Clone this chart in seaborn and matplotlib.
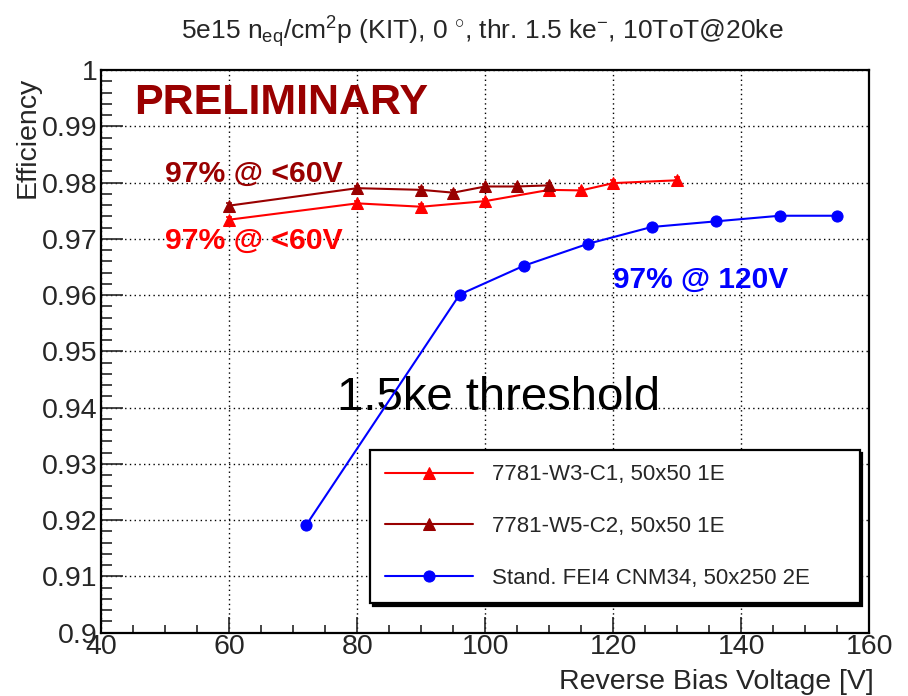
import matplotlib
matplotlib.use("Agg")
import matplotlib.pyplot as plt
from matplotlib.ticker import AutoMinorLocator, MultipleLocator
import seaborn as sns

# ---- data ----
w3_voltage = [60, 80, 90, 100, 110, 115, 120, 130]
w3_eff = [0.9734, 0.9763, 0.9757, 0.9767, 0.9787, 0.9786, 0.9799, 0.9804]
w3_err = [0.0004, 0.0004, 0.0004, 0.0004, 0.0004, 0.0004, 0.0005, 0.0006]

w5_voltage = [60, 80, 90, 95, 100, 105, 110]
w5_eff = [0.9759, 0.9790, 0.9787, 0.9782, 0.9793, 0.9793, 0.9795]
w5_err = [0.0004, 0.0004, 0.0005, 0.0005, 0.0005, 0.0005, 0.0005]

fei4_voltage = [72, 96, 106, 116, 126, 136, 146, 155]
fei4_eff = [0.9191, 0.9601, 0.9652, 0.9691, 0.9721, 0.9731, 0.9741, 0.9741]
fei4_err = [0.0007, 0.0003, 0.0003, 0.0003, 0.0003, 0.0003, 0.0003, 0.0003]

labels = ["7781-W3-C1, 50x50 1E", "7781-W5-C2, 50x50 1E", "Stand. FEI4 CNM34, 50x250 2E"]
colors = ["#ff0000", "#990000", "#0000ff"]

x_ticks = [40, 60, 80, 100, 120, 140, 160]
y_ticks = [0.90, 0.91, 0.92, 0.93, 0.94, 0.95, 0.96, 0.97, 0.98, 0.99, 1.00]
y_tick_labels = ["0.9", "0.91", "0.92", "0.93", "0.94", "0.95", "0.96", "0.97", "0.98", "0.99", "1"]

sns.set_style("white")
plt.rcParams["font.family"] = ["Liberation Sans", "DejaVu Sans"]
plt.rcParams["mathtext.fontset"] = "custom"
plt.rcParams["mathtext.rm"] = "Liberation Sans"
plt.rcParams["mathtext.it"] = "Liberation Sans:italic"
plt.rcParams["mathtext.bf"] = "Liberation Sans:bold"

fig = plt.figure(figsize=(9.08, 6.96), dpi=100)
ax = fig.add_axes([101.3 / 908, 1 - 632.7 / 696, 768 / 908, 562.7 / 696])

series = [
    (w3_voltage, w3_eff, w3_err, "^", 8.5),
    (w5_voltage, w5_eff, w5_err, "^", 8.5),
    (fei4_voltage, fei4_eff, fei4_err, "o", 8),
]
for (xv, yv, ev, mk, ms), lab, col in zip(series, labels, colors):
    ax.errorbar(xv, yv, yerr=ev, fmt="none", ecolor=col, elinewidth=1.2,
                capsize=2.5, capthick=1.2, zorder=3)
    sns.lineplot(x=xv, y=yv, ax=ax, color=col, marker=mk, markersize=ms,
                 markeredgecolor=col, linewidth=1.5, label=lab,
                 errorbar=None, zorder=4)

ax.set_xlim(40, 160)
ax.set_ylim(0.9, 1.0)
ax.set_xticks(x_ticks)
ax.xaxis.set_minor_locator(AutoMinorLocator(4))
ax.set_yticks(y_ticks)
ax.set_yticklabels(y_tick_labels)
ax.yaxis.set_minor_locator(AutoMinorLocator(5))

ax.tick_params(axis="x", which="major", direction="in", length=11.5, width=1.2,
               labelsize=20.5, pad=1, bottom=True, top=False)
ax.tick_params(axis="x", which="minor", direction="in", length=5.5, width=1.2,
               bottom=True, top=False)
ax.tick_params(axis="y", which="major", direction="in", length=16, width=1.2,
               labelsize=20.5, pad=2.5, left=True, right=False)
ax.tick_params(axis="y", which="minor", direction="in", length=8, width=1.2,
               left=True, right=False)

for sp in ax.spines.values():
    sp.set_linewidth(1.6)
    sp.set_color("black")

ax.grid(True, which="major", color="black", linestyle=(0, (1, 2.4)), linewidth=1.0)
ax.set_axisbelow(True)

ax.set_xlabel("Reverse Bias Voltage [V]", fontsize=20.5, loc="right")
ax.xaxis.set_label_coords(1.006, -0.064)
ax.set_ylabel("Efficiency", fontsize=20.5, loc="top")
ax.yaxis.set_label_coords(-0.079, 0.988)

# annotations
ax.text(45.1, 0.99218, "PRELIMINARY", color="#990000", fontsize=31,
        fontweight="bold", va="baseline", ha="left")
ax.text(49.9, 0.98012, "97% @ <60V", color="#990000", fontsize=21.7,
        fontweight="bold", va="baseline", ha="left")
ax.text(50.0, 0.96813, "97% @ <60V", color="#ff0000", fontsize=21.7,
        fontweight="bold", va="baseline", ha="left")
ax.text(119.9, 0.9613, "97% @ 120V", color="#0000ff", fontsize=21.5,
        fontweight="bold", va="baseline", ha="left")
ax.text(76.8, 0.93957, "1.5ke threshold", color="black", fontsize=34,
        va="baseline", ha="left")

fig.text(482 / 908, 1 - 39 / 696,
         r"5e15 n$_{\mathrm{eq}}$/cm$^{2}$p (KIT), 0 $^{\circ}$, thr. 1.5 ke$^{-}$, 10ToT@20ke",
         fontsize=19, ha="center", va="baseline")

leg = ax.legend(loc="center", bbox_to_anchor=(0.35, 0.0528, 0.6375, 0.272),
                mode="expand", borderaxespad=0, fontsize=16, frameon=True,
                fancybox=False, edgecolor="black", framealpha=1,
                handlelength=4.0, handletextpad=0.85, labelspacing=1.38,
                borderpad=0.65,
                shadow={"facecolor": "black", "edgecolor": "black", "alpha": 1})
leg.get_frame().set_linewidth(1.6)

fig.savefig("out.png", dpi=100)
